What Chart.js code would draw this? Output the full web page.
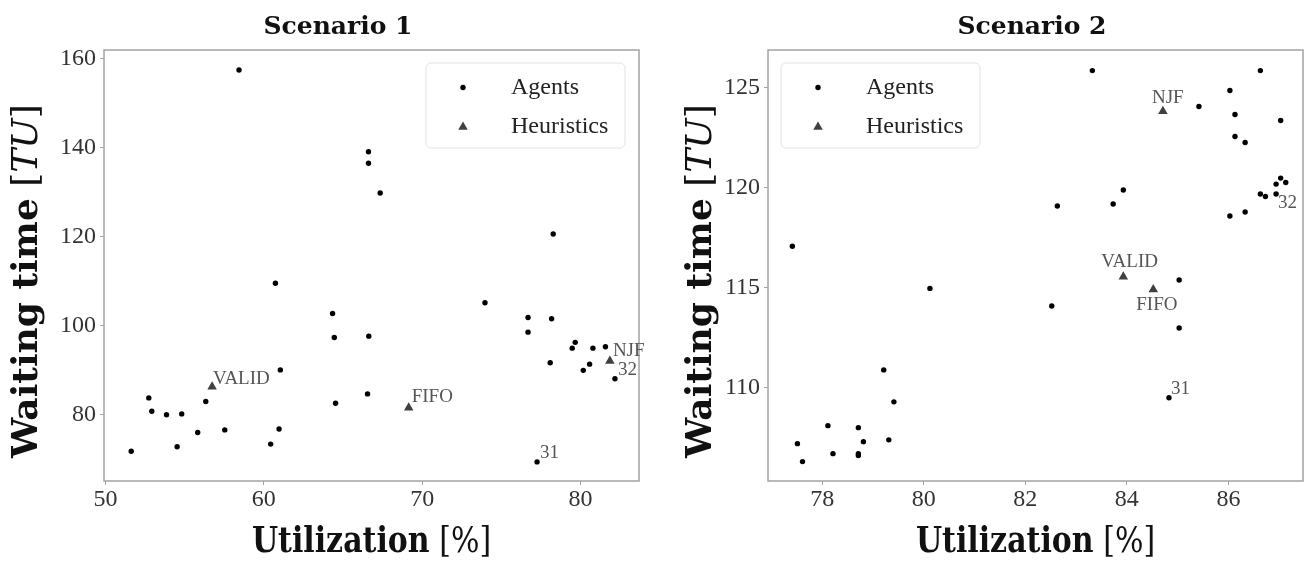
<!DOCTYPE html>
<html>
<head>
<meta charset="utf-8">
<script src="https://cdn.jsdelivr.net/npm/chart.js@4.4.1/dist/chart.umd.min.js"></script>
<style>
html, body { margin: 0; padding: 0; background: #fff; }
#wrap { position: relative; width: 1312px; height: 564px; }
.box { position: absolute; top: 0; width: 656px; height: 564px; }
</style>
</head>
<body>
<div id="wrap">
  <div class="box" style="left:0"><canvas id="myChart_1" width="656" height="564"></canvas></div>
  <div class="box" style="left:656px"><canvas id="myChart_2" width="656" height="564"></canvas></div>
</div>
<script>
// ---- Scenario 1 ----
var s1_agent_util = [58.43, 66.61, 66.61, 67.35, 78.28, 60.73, 64.34, 64.45, 66.63, 61.04,
    52.73, 52.92, 53.85, 54.81, 56.33, 64.53, 66.55, 55.82, 57.53, 60.96,
    54.52, 60.43, 51.62, 73.97, 76.69, 76.69, 78.18, 78.09, 79.67, 79.48,
    80.79, 81.58, 80.58, 80.18];
var s1_agent_wait = [157.5, 139.1, 136.5, 129.8, 120.6, 109.5, 102.7, 97.3, 97.6, 90.0,
    83.7, 80.7, 79.9, 80.1, 82.9, 82.5, 84.6, 75.9, 76.5, 76.7,
    72.7, 73.3, 71.7, 105.1, 101.8, 98.5, 101.5, 91.6, 96.2, 94.9,
    94.9, 95.2, 91.3, 89.9];
var s1_tag_names = ['31', '32'];
var s1_tag_util = [77.26, 82.18];
var s1_tag_wait = [69.3, 88.0];
var s1_heur_names = ['VALID', 'FIFO', 'NJF'];
var s1_heur_util = [56.73, 69.15, 81.86];
var s1_heur_wait = [86.2, 81.5, 92.0];
var s1_x_ticks = [50, 60, 70, 80];
var s1_y_ticks = [80, 100, 120, 140, 160];

// ---- Scenario 2 ----
var s2_agent_util = [77.41, 83.32, 86.63, 86.03, 85.42, 86.13, 87.03, 86.13, 86.33, 87.03,
    86.94, 87.13, 86.63, 86.73, 83.93, 83.73, 82.63, 86.33, 86.03, 85.03,
    82.52, 85.03, 80.12, 79.21, 79.41, 78.11, 78.71, 77.51, 78.81, 79.31,
    78.21, 78.71, 78.71, 77.61];
var s2_agent_wait = [117.08, 125.87, 125.87, 124.87, 124.07, 123.67, 123.37, 122.57, 122.27, 120.49,
    120.19, 120.27, 119.69, 119.57, 119.89, 119.19, 119.09, 118.79, 118.59, 115.39,
    114.09, 112.99, 114.97, 110.89, 109.29, 108.10, 108.00, 107.20, 107.30, 107.39,
    106.70, 106.70, 106.60, 106.30];
var s2_tag_names = ['31', '32'];
var s2_tag_util = [84.83, 86.94];
var s2_tag_wait = [109.50, 119.69];
var s2_heur_names = ['VALID', 'FIFO', 'NJF'];
var s2_heur_util = [83.93, 84.52, 84.71];
var s2_heur_wait = [115.55, 114.92, 123.83];
var s2_x_ticks = [78, 80, 82, 84, 86];
var s2_y_ticks = [110, 115, 120, 125];

var serif = "'Liberation Serif', 'Times New Roman', serif";
var wideSerif = "'DejaVu Serif', serif";

function pts(xs, ys) {
    return xs.map(function (x, i) { return { x: x, y: ys[i] }; });
}

function drawRuns(c, runs, x, y, align) {
    var w = 0;
    runs.forEach(function (r) { c.font = r.f; w += c.measureText(r.t).width; });
    var cx = align === 'center' ? x - w / 2 : x;
    c.textAlign = 'left';
    runs.forEach(function (r) {
        c.font = r.f;
        c.fillText(r.t, cx, y);
        cx += c.measureText(r.t).width;
    });
}

function triangle(c, x, y, r) {
    var rad = 0;
    c.beginPath();
    for (var i = 0; i < 3; i++) {
        c.lineTo(x + Math.sin(rad) * r, y - Math.cos(rad) * r);
        rad += 2 * Math.PI / 3;
    }
    c.closePath();
    c.fill();
}

// frame, titles, legend and point labels
var decor = {
    id: 'decor',
    beforeDatasetsDraw: function (chart) {
        var a = chart.chartArea, c = chart.ctx;
        c.save();
        c.strokeStyle = '#a3a3a3';
        c.lineWidth = 1.5;
        c.strokeRect(a.left, a.top, a.right - a.left, a.bottom - a.top);
        c.restore();
    },
    afterDatasetsDraw: function (chart, args, o) {
        var c = chart.ctx, a = chart.chartArea;
        var xs = chart.scales.x, ys = chart.scales.y;
        c.save();

        // point labels
        c.font = '19px ' + serif;
        c.fillStyle = '#555';
        c.textAlign = 'left';
        c.textBaseline = 'middle';
        o.labels.forEach(function (l) {
            var off = o.offsets[l.name];
            c.fillText(l.name, xs.getPixelForValue(l.x) + off[0], ys.getPixelForValue(l.y) + off[1]);
        });

        // legend
        var bw = 199, bh = 85;
        var bx = o.legendSide === 'right' ? a.right - 14 - bw : a.left + 13;
        var by = a.top + 13;
        c.beginPath();
        c.roundRect(bx, by, bw, bh, 5);
        c.fillStyle = 'rgba(255,255,255,0.85)';
        c.fill();
        c.strokeStyle = '#e2e2e2';
        c.lineWidth = 1;
        c.stroke();
        c.fillStyle = '#000';
        c.beginPath();
        c.arc(bx + 37, by + 24.5, 2.7, 0, 2 * Math.PI);
        c.fill();
        c.fillStyle = '#404040';
        triangle(c, bx + 37, by + 64, 5.5);
        c.fillStyle = '#222';
        c.font = '24px ' + serif;
        c.textBaseline = 'middle';
        c.fillText(chart.data.datasets[0].label, bx + 85, by + 24.5);
        c.fillText(chart.data.datasets[1].label, bx + 85, by + 64);

        // chart title
        c.fillStyle = '#111';
        c.textBaseline = 'alphabetic';
        drawRuns(c, [{ t: o.title, f: 'bold 25px ' + wideSerif }], o.titleX, 34, 'center');

        // x axis title (slightly stretched vertically like the source image)
        c.save();
        c.translate((a.left + a.right) / 2, 552);
        c.scale(1, 1.15);
        drawRuns(c, [
            { t: 'Utilization', f: 'bold 30px ' + wideSerif },
            { t: ' [%]', f: '30px ' + wideSerif }
        ], 0, 0, 'center');
        c.restore();

        // y axis title
        c.translate(o.yTitleX, 458);
        c.rotate(-Math.PI / 2);
        drawRuns(c, [
            { t: 'Waiting time', f: 'bold 36px ' + wideSerif },
            { t: ' [', f: '36px ' + wideSerif },
            { t: 'TU', f: 'italic 36px ' + wideSerif },
            { t: ']', f: '36px ' + wideSerif }
        ], 0, 0, 'left');
        c.restore();
    }
};

function tagLabels(names, xs, ys) {
    return names.map(function (n, i) { return { name: n, x: xs[i], y: ys[i] }; });
}

function makeOptions(xMin, xMax, yMin, yMax, xTicks, yTicks, yWidth, padRight, decorOpts) {
    var tickFont = { family: serif, size: 24 };
    return {
        responsive: false,
        animation: false,
        layout: { padding: { left: 0, right: padRight, top: 50, bottom: 0 } },
        scales: {
            x: {
                type: 'linear',
                min: xMin,
                max: xMax,
                afterBuildTicks: function (s) { s.ticks = xTicks.map(function (v) { return { value: v }; }); },
                afterFit: function (s) { s.height = 83; },
                ticks: { font: tickFont, color: '#333', padding: 0, maxRotation: 0, autoSkip: false },
                grid: { drawOnChartArea: false, tickLength: 4, color: '#a3a3a3' },
                border: { display: false }
            },
            y: {
                type: 'linear',
                min: yMin,
                max: yMax,
                afterBuildTicks: function (s) { s.ticks = yTicks.map(function (v) { return { value: v }; }); },
                afterFit: function (s) { s.width = yWidth; },
                ticks: { font: tickFont, color: '#333', padding: 4, autoSkip: false },
                grid: { drawOnChartArea: false, tickLength: 4, color: '#a3a3a3' },
                border: { display: false }
            }
        },
        plugins: {
            legend: { display: false },
            tooltip: { enabled: false },
            decor: decorOpts
        }
    };
}

function makeData(aU, aW, tU, tW, hU, hW) {
    return {
        datasets: [{
            label: 'Agents',
            data: pts(aU.concat(tU), aW.concat(tW)),
            pointStyle: 'circle',
            pointRadius: 2.7,
            backgroundColor: '#000',
            borderWidth: 0
        },
        {
            label: 'Heuristics',
            data: pts(hU, hW),
            pointStyle: 'triangle',
            pointRadius: 5.5,
            backgroundColor: '#404040',
            borderWidth: 0
        }]
    };
}

var ctx1 = document.getElementById('myChart_1').getContext('2d');
var myChart1 = new Chart(ctx1, {
    type: 'scatter',
    data: makeData(s1_agent_util, s1_agent_wait, s1_tag_util, s1_tag_wait, s1_heur_util, s1_heur_wait),
    options: makeOptions(49.9, 83.7, 65, 162, s1_x_ticks, s1_y_ticks, 104, 17, {
        title: 'Scenario 1',
        titleX: 338,
        yTitleX: 37,
        legendSide: 'right',
        labels: tagLabels(s1_heur_names, s1_heur_util, s1_heur_wait)
            .concat(tagLabels(s1_tag_names, s1_tag_util, s1_tag_wait)),
        offsets: { VALID: [1, -8], FIFO: [3, -11], NJF: [3, -10], '31': [3, -9], '32': [3, -9] }
    }),
    plugins: [decor]
});

var ctx2 = document.getElementById('myChart_2').getContext('2d');
var myChart2 = new Chart(ctx2, {
    type: 'scatter',
    data: makeData(s2_agent_util, s2_agent_wait, s2_tag_util, s2_tag_wait, s2_heur_util, s2_heur_wait),
    options: makeOptions(76.93, 87.47, 105.33, 126.9, s2_x_ticks, s2_y_ticks, 112, 9, {
        title: 'Scenario 2',
        titleX: 376,
        yTitleX: 55,
        legendSide: 'left',
        labels: tagLabels(s2_heur_names, s2_heur_util, s2_heur_wait)
            .concat(tagLabels(s2_tag_names, s2_tag_util, s2_tag_wait)),
        offsets: { VALID: [-22, -15], FIFO: [-17, 16], NJF: [-11, -13], '31': [2, -9], '32': [2, 9] }
    }),
    plugins: [decor]
});
</script>
</body>
</html>
